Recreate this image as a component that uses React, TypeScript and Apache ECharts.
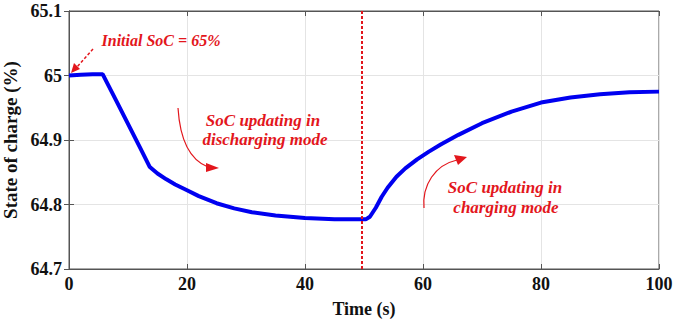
import React, { useEffect, useRef } from "react";
import * as echarts from "echarts";

const time = [0, 2, 4, 5.7, 8, 10, 12, 13.7, 15, 16.5, 18, 20, 22, 25, 28, 31, 35, 40, 45, 50.3, 51, 52, 53, 54, 55.5, 57, 59, 61, 63, 66, 70, 75, 80, 85, 90, 95, 100];
const soc = [65.0, 65.001, 65.002, 65.002, 64.961, 64.925, 64.889, 64.858, 64.848, 64.839, 64.831, 64.822, 64.813, 64.802, 64.794, 64.788, 64.783, 64.779, 64.777, 64.777, 64.781, 64.795, 64.812, 64.826, 64.843, 64.856, 64.87, 64.882, 64.893, 64.908, 64.926, 64.944, 64.958, 64.966, 64.971, 64.974, 64.975];
const switchTime = 49.6;
const xTicks = [0, 20, 40, 60, 80, 100];
const yTicks = [64.7, 64.8, 64.9, 65, 65.1];

const RED = "#e3161c";
const FONT = "Liberation Serif";

export default function App() {
  const ref = useRef<HTMLDivElement>(null);
  useEffect(() => {
    if (!ref.current) return;
    const chart = echarts.init(ref.current, undefined, { renderer: "svg" });
    const labelStyle = { fontFamily: FONT, fontWeight: "bold" as const, fontSize: 18, color: "#111" };
    const annot = (x: number, y: number, text: string, size: number) => ({
      type: "text",
      x,
      y,
      z: 100,
      style: {
        text,
        fill: RED,
        fontFamily: FONT,
        fontSize: size,
        fontWeight: "bold",
        fontStyle: "italic",
        textAlign: "center",
        textVerticalAlign: "middle",
      },
    });
    chart.setOption({
      animation: false,
      grid: {
        left: 69,
        right: 14,
        top: 11,
        bottom: 56,
        show: true,
        borderColor: "#555",
        borderWidth: 1,
        containLabel: false,
        outerBoundsMode: "none",
      },
      xAxis: [
        {
          type: "value",
          min: xTicks[0],
          max: xTicks[xTicks.length - 1],
          interval: 20,
          axisLine: { show: true, lineStyle: { color: "#555" } },
          axisTick: { show: true, inside: true, length: 5, lineStyle: { color: "#555" } },
          splitLine: { show: true, lineStyle: { color: "#e4e4e4" } },
          axisLabel: { ...labelStyle, margin: 6 },
          name: "Time (s)",
          nameLocation: "middle",
          nameGap: 31,
          nameTextStyle: { ...labelStyle },
        },
        {
          type: "value",
          position: "top",
          min: 0,
          max: 100,
          interval: 20,
          axisLine: { show: true, lineStyle: { color: "#555" } },
          axisTick: { show: true, inside: true, length: 5, lineStyle: { color: "#555" } },
          splitLine: { show: false },
          axisLabel: { show: false },
        },
      ],
      yAxis: [
        {
          type: "value",
          min: yTicks[0],
          max: yTicks[yTicks.length - 1],
          interval: 0.1,
          axisLine: { show: true, lineStyle: { color: "#555" } },
          axisTick: { show: true, inside: true, length: 5, lineStyle: { color: "#555" } },
          splitLine: { show: true, lineStyle: { color: "#e4e4e4" } },
          axisLabel: {
            ...labelStyle,
            margin: 7,
            formatter: (v: number) => String(Math.round(v * 10) / 10),
          },
          name: "State of charge (%)",
          nameLocation: "middle",
          nameGap: 45,
          nameTextStyle: { ...labelStyle, fontSize: 19 },
        },
        {
          type: "value",
          position: "right",
          min: 64.7,
          max: 65.1,
          interval: 0.1,
          axisLine: { show: true, lineStyle: { color: "#555" } },
          axisTick: { show: true, inside: true, length: 5, lineStyle: { color: "#555" } },
          splitLine: { show: false },
          axisLabel: { show: false },
        },
      ],
      series: [
        {
          type: "line",
          data: time.map((t, i) => [t, soc[i]]),
          showSymbol: false,
          symbol: "none",
          lineStyle: { color: "#0000f0", width: 4 },
          markLine: {
            silent: true,
            symbol: "none",
            label: { show: false },
            lineStyle: { color: RED, type: [3, 2], width: 2 },
            data: [{ xAxis: switchTime }],
          },
        },
      ],
      graphic: [
        annot(161, 40, "Initial SoC = 65%", 16),
        annot(263, 120, "SoC updating in", 17),
        annot(265, 139, "discharging mode", 17),
        annot(505, 187, "SoC updating in", 17),
        annot(506, 207, "charging mode", 17),
        {
          type: "line",
          z: 100,
          shape: { x1: 93, y1: 49, x2: 76, y2: 68 },
          style: { stroke: RED, lineWidth: 1.5, lineDash: [3, 2] },
        },
        {
          type: "polygon",
          z: 100,
          shape: { points: [[71, 73], [80, 69], [74, 63]] },
          style: { fill: RED },
        },
        {
          type: "bezierCurve",
          z: 100,
          shape: { x1: 178, y1: 108, cpx1: 180, cpy1: 140, cpx2: 190, cpy2: 160, x2: 208, y2: 167 },
          style: { stroke: RED, lineWidth: 1.2, fill: null },
        },
        {
          type: "polygon",
          z: 100,
          shape: { points: [[219, 168], [206, 163], [206, 172]] },
          style: { fill: RED },
        },
        {
          type: "bezierCurve",
          z: 100,
          shape: { x1: 424, y1: 208, cpx1: 422, cpy1: 185, cpx2: 435, cpy2: 165, x2: 457, y2: 160 },
          style: { stroke: RED, lineWidth: 1.2, fill: null },
        },
        {
          type: "polygon",
          z: 100,
          shape: { points: [[467, 157], [454, 155], [458, 165]] },
          style: { fill: RED },
        },
      ],
    });
    return () => chart.dispose();
  }, []);
  return (
    <div
      ref={ref}
      style={{ position: "fixed", left: 0, top: 0, width: 673, height: 325, background: "#fff" }}
    />
  );
}
